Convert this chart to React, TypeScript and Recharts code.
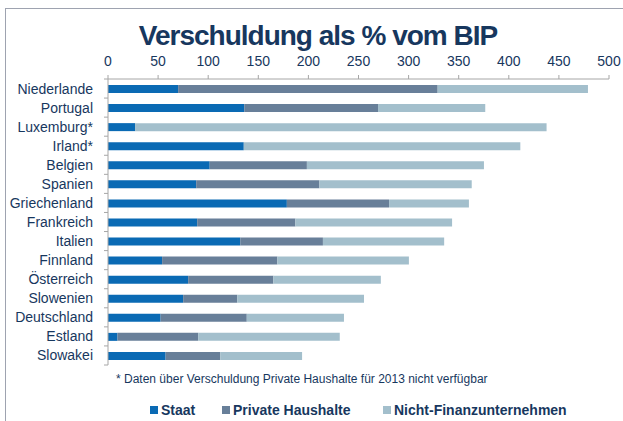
import React from 'react';
import { BarChart, Bar, XAxis, YAxis } from 'recharts';

const countries = [
  'Niederlande', 'Portugal', 'Luxemburg*', 'Irland*', 'Belgien', 'Spanien', 'Griechenland',
  'Frankreich', 'Italien', 'Finnland', 'Österreich', 'Slowenien', 'Deutschland', 'Estland', 'Slowakei',
];
const staat = [70, 136, 27, 135.5, 101.5, 88, 178.5, 89, 132, 54, 80, 75, 52.5, 9.5, 57.5];
const privateHaushalte = [259, 133.5, 0, 0, 97, 123, 102, 98, 82.5, 115, 85, 54, 86, 80.5, 54.5];
const nichtFinanz = [150, 107, 410.7, 276, 176.7, 152, 79.7, 156.4, 121, 131.3, 107.3, 126.5, 97, 141.3, 81.7];
const xTicks = [0, 50, 100, 150, 200, 250, 300, 350, 400, 450, 500];

const NAVY = '#17375e';
const AXIS = '#a6a6a6';
const C_STAAT = '#0a6ab4';
const C_PRIV = '#687f99';
const C_NFU = '#a3bfcc';

const data = countries.map((name, i) => ({
  name,
  staat: staat[i],
  priv: privateHaushalte[i],
  nfu: nichtFinanz[i],
}));

const CHART_H = 421;
const MARGIN = { top: 49, right: 14, bottom: 56, left: 0 };
const X_AXIS_H = 30;
const band = (CHART_H - MARGIN.top - X_AXIS_H - MARGIN.bottom) / countries.length;

// category label + tick marks at the band edges (like the Excel original)
const CountryTick = (props: any) => {
  const { x, y, payload, index } = props;
  return (
    <g>
      {index === 0 && <line x1={x - 4} x2={x} y1={y - band / 2} y2={y - band / 2} stroke={AXIS} />}
      <line x1={x - 4} x2={x} y1={y + band / 2} y2={y + band / 2} stroke={AXIS} />
      <text x={x - 15} y={y} dy={5} textAnchor="end" fontSize={14} fill={NAVY} fontFamily="Liberation Sans, Arial, sans-serif">
        {payload.value}
      </text>
    </g>
  );
};

const legendItems = [
  { label: 'Staat', color: C_STAAT, x: 150 },
  { label: 'Private Haushalte', color: C_PRIV, x: 222 },
  { label: 'Nicht-Finanzunternehmen', color: C_NFU, x: 383 },
];

export default function App() {
  return (
    <div style={{ position: 'absolute', left: 0, top: 0, width: 623, height: 421, background: '#fff', fontFamily: 'Liberation Sans, Arial, sans-serif', overflow: 'hidden' }}>
      {/* frame */}
      <div style={{ position: 'absolute', left: 5, top: 8, width: 640, height: 440, borderLeft: '1.5px solid #9ea3b0', borderTop: '1.5px solid #9ea3b0' }} />
      <div style={{ position: 'absolute', left: 0, top: 20, width: 636, textAlign: 'center', fontSize: 28, fontWeight: 'bold', color: NAVY, letterSpacing: -1, lineHeight: '32px' }}>
        Verschuldung als % vom BIP
      </div>
      <div style={{ position: 'absolute', left: 0, top: 0 }}>
        <BarChart width={623} height={CHART_H} data={data} layout="vertical" margin={MARGIN} barSize={8}>
          <XAxis
            type="number"
            orientation="top"
            domain={[0, 500]}
            ticks={xTicks}
            height={X_AXIS_H}
            interval={0}
            stroke={AXIS}
            tickSize={4}
            tickMargin={9}
            tick={{ fill: NAVY, fontSize: 14 }}
          />
          <YAxis
            type="category"
            dataKey="name"
            width={108}
            stroke={AXIS}
            tickLine={false}
            tickSize={0}
            tickMargin={0}
            interval={0}
            tick={<CountryTick />}
          />
          <Bar dataKey="staat" stackId="a" fill={C_STAAT} isAnimationActive={false} />
          <Bar dataKey="priv" stackId="a" fill={C_PRIV} isAnimationActive={false} />
          <Bar dataKey="nfu" stackId="a" fill={C_NFU} isAnimationActive={false} />
        </BarChart>
      </div>
      <div style={{ position: 'absolute', left: 116, top: 372, fontSize: 12, color: NAVY, whiteSpace: 'nowrap' }}>
        * Daten über Verschuldung Private Haushalte für 2013 nicht verfügbar
      </div>
      {legendItems.map((it) => (
        <div key={it.label} style={{ position: 'absolute', left: it.x, top: 401, height: 18, display: 'flex', alignItems: 'center', whiteSpace: 'nowrap' }}>
          <span style={{ width: 8, height: 8, background: it.color, display: 'inline-block', marginRight: 3 }} />
          <span style={{ fontSize: 14, fontWeight: 'bold', color: NAVY }}>{it.label}</span>
        </div>
      ))}
    </div>
  );
}
